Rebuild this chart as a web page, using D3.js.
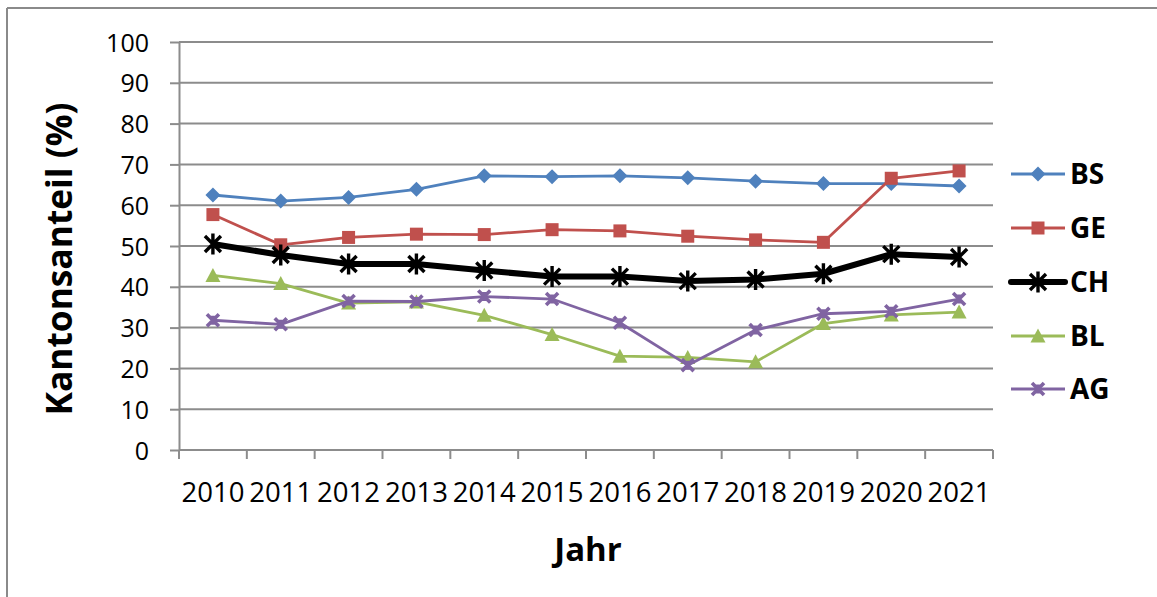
<!DOCTYPE html>
<html><head><meta charset="utf-8">
<script src="https://cdn.jsdelivr.net/npm/d3@7"></script>
<style>html,body{margin:0;padding:0;background:#fff;}svg{display:block;}</style>
</head><body>
<svg id="chart" width="1157" height="597"></svg>
<script>
const years = ["2010","2011","2012","2013","2014","2015","2016","2017","2018","2019","2020","2021"];
const yTicks = [0,10,20,30,40,50,60,70,80,90,100];
const BS = [62.5,61.0,61.9,63.9,67.2,67.0,67.2,66.7,65.9,65.3,65.3,64.7];
const GE = [57.7,50.3,52.1,52.9,52.8,54.0,53.7,52.4,51.5,50.9,66.6,68.4];
const CH = [50.5,47.8,45.6,45.6,44.0,42.5,42.5,41.4,41.8,43.2,48.0,47.3];
const BL = [42.8,40.8,36.0,36.3,33.0,28.3,23.0,22.7,21.6,31.0,33.1,33.8];
const AG = [31.8,30.8,36.5,36.4,37.6,37.0,31.2,20.8,29.4,33.4,34.0,37.0];
const seriesNames = ["BS","GE","CH","BL","AG"];
const seriesValues = [BS,GE,CH,BL,AG];
const seriesColors = ["#4F81BD","#C0504D","#000000","#9BBB59","#8064A2"];
const seriesMarkers = ["diamond","square","star","triangle","x"];

const svg = d3.select("#chart");
const gridColor = "#8c8c8c";

// outer frame (top and left edges)
svg.append("line").attr("x1",7).attr("y1",8).attr("x2",1157).attr("y2",8).attr("stroke","#8a8a8a").attr("stroke-width",2);
svg.append("line").attr("x1",7).attr("y1",8).attr("x2",7).attr("y2",597).attr("stroke","#8a8a8a").attr("stroke-width",2);

const x = d3.scaleBand().domain(years).range([179,993]).padding(0);
const y = d3.scaleLinear().domain([0,100]).range([450,42]);
const cx = d => x(d) + x.bandwidth()/2;

// gridlines
svg.append("g").selectAll("line").data(yTicks.filter(t=>t>0)).join("line")
  .attr("x1",179).attr("x2",993).attr("y1",d=>y(d)).attr("y2",d=>y(d))
  .attr("stroke",gridColor).attr("stroke-width",2);

// y axis
const yAxis = svg.append("g").attr("transform","translate(179,0)")
  .call(d3.axisLeft(y).tickValues(yTicks).tickSize(9).tickPadding(21).tickSizeOuter(0));
yAxis.select(".domain").attr("stroke",gridColor).attr("stroke-width",2);
yAxis.selectAll(".tick line").attr("stroke",gridColor).attr("stroke-width",2);
yAxis.selectAll(".tick text").attr("font-family","'Open Sans', sans-serif").attr("font-size",25).attr("fill","#000").attr("dy","0.36em");

// x axis
const xTickPos = d3.range(years.length+1).map(i => 179 + i*x.bandwidth());
svg.append("line").attr("x1",179).attr("x2",993).attr("y1",y(0)).attr("y2",y(0)).attr("stroke",gridColor).attr("stroke-width",2);
svg.append("g").selectAll("line").data(xTickPos).join("line")
  .attr("x1",d=>d).attr("x2",d=>d).attr("y1",y(0)).attr("y2",y(0)+9)
  .attr("stroke",gridColor).attr("stroke-width",2);
svg.append("g").selectAll("text").data(years).join("text")
  .attr("x",d=>cx(d)).attr("y",502).attr("text-anchor","middle")
  .attr("font-family","'Open Sans', sans-serif").attr("font-size",28).attr("fill","#000")
  .attr("textLength",63).attr("lengthAdjust","spacingAndGlyphs")
  .text(d=>d);

// axis titles
svg.append("text").attr("transform","translate(72,259) rotate(-90)").attr("text-anchor","middle")
  .attr("font-family","'Open Sans', sans-serif").attr("font-weight","bold").attr("font-size",36)
  .attr("textLength",313).attr("lengthAdjust","spacingAndGlyphs")
  .text("Kantonsanteil (%)");
svg.append("text").attr("x",588).attr("y",561).attr("text-anchor","middle")
  .attr("font-family","'Open Sans', sans-serif").attr("font-weight","bold").attr("font-size",33)
  .text("Jahr");

function drawMarker(g, type, color, px, py) {
  if (type === "diamond") {
    g.append("path").attr("d",`M${px},${py-7.5}L${px+7.5},${py}L${px},${py+7.5}L${px-7.5},${py}Z`).attr("fill",color);
  } else if (type === "square") {
    g.append("rect").attr("x",px-6.5).attr("y",py-6.5).attr("width",13).attr("height",13).attr("fill",color);
  } else if (type === "triangle") {
    g.append("path").attr("d",`M${px},${py-7.5}L${px+7.5},${py+6.5}L${px-7.5},${py+6.5}Z`).attr("fill",color);
  } else if (type === "star") {
    const r = 10.5, d = 8;
    g.append("path").attr("d",`M${px},${py-r}L${px},${py+r}M${px-d},${py-d}L${px+d},${py+d}M${px-d},${py+d}L${px+d},${py-d}`)
      .attr("stroke",color).attr("stroke-width",3.4).attr("fill","none");
  } else if (type === "x") {
    const d = 6;
    g.append("path").attr("d",`M${px-d},${py-d}L${px+d},${py+d}M${px-d},${py+d}L${px+d},${py-d}M${px},${py-4.5}L${px},${py+4.5}`)
      .attr("stroke",color).attr("stroke-width",3.6).attr("fill","none");
  }
}

// series
seriesNames.forEach((name,i) => {
  const vals = seriesValues[i];
  const g = svg.append("g");
  const line = d3.line().x((d,j)=>cx(years[j])).y(d=>y(d));
  g.append("path").datum(vals).attr("d",line).attr("fill","none")
    .attr("stroke",seriesColors[i]).attr("stroke-width", name==="CH"?6:2.8).attr("stroke-linejoin","round");
  vals.forEach((v,j) => drawMarker(g, seriesMarkers[i], seriesColors[i], cx(years[j]), y(v)));
});

// legend
const legendY = [174,228,282,336,389];
seriesNames.forEach((name,i) => {
  const g = svg.append("g");
  const ly = legendY[i];
  g.append("line").attr("x1",1011).attr("x2",1065).attr("y1",ly).attr("y2",ly)
    .attr("stroke",seriesColors[i]).attr("stroke-width",name==="CH"?6:2.8).attr("stroke-linecap", name==="CH"?"round":"butt");
  drawMarker(g, seriesMarkers[i], seriesColors[i], 1038, ly);
  g.append("text").attr("x",1070).attr("y",ly+10)
    .attr("font-family","'Open Sans', sans-serif").attr("font-weight","bold").attr("font-size",28)
    .text(name);
});
</script>
</body></html>
